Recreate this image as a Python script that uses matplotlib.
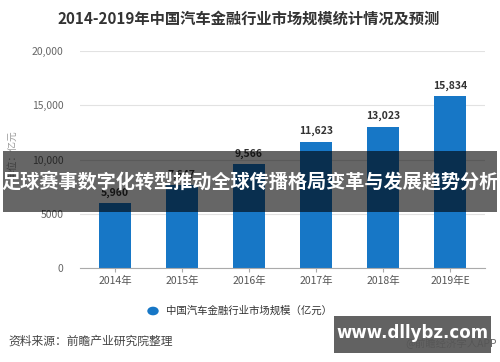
import matplotlib
matplotlib.use('Agg')
import matplotlib.pyplot as plt
from matplotlib.patches import Rectangle

plt.rcParams['font.family'] = ['Noto Sans CJK SC', 'DejaVu Sans']

# data
years = ['2014年', '2015年', '2016年', '2017年', '2018年', '2019年E']
market_size = [5960, 7647, 9566, 11623, 13023, 15834]
y_ticks = [0, 5000, 10000, 15000, 20000]
y_tick_labels = ['0', '5000', '10,000', '15,000', '20,000']

W, H = 500, 362
bar_color = '#1777c6'

fig = plt.figure(figsize=(W / 100, H / 100), dpi=100)
fig.patch.set_facecolor('white')

def fx(px):
    return px / W

def fy(py):
    return 1 - py / H

ax = fig.add_axes([fx(80), fy(268), fx(405), (268 - 51) / H])

x = list(range(len(years)))
ax.bar(x, market_size, width=0.47, color=bar_color, zorder=2)
for xi, v in zip(x, market_size):
    ax.text(xi, v + 500, f'{v:,}', ha='center', va='bottom',
            fontsize=7.5, fontweight='bold', color='#333333')

ax.set_xlim(-0.52, 5.52)
ax.set_ylim(0, 20000)
ax.set_xticks(x)
ax.set_xticklabels(years, fontsize=7.5, color='#555555')
ax.set_yticks(y_ticks)
ax.set_yticklabels(y_tick_labels, fontsize=7.5, color='#666666')
ax.tick_params(axis='y', length=0, pad=12)
ax.tick_params(axis='x', length=3, color='#aaaaaa', pad=3)
ax.grid(axis='y', color='#e2e2e2', linewidth=0.8, zorder=0)
for s in ['top', 'right', 'left']:
    ax.spines[s].set_visible(False)
ax.spines['bottom'].set_color('#aaaaaa')

# title
fig.text(fx(249), fy(19), '2014-2019年中国汽车金融行业市场规模统计情况及预测',
         ha='center', va='center', fontsize=11, fontweight='bold', color='#333333')

# y unit label
fig.text(fx(12), fy(155), '单位：亿元', rotation=90, ha='center', va='center',
         fontsize=7, color='#999999')

# legend
fig.patches.append(plt.Circle((fx(153), fy(311)), 0.01, transform=fig.transFigure,
                              color=bar_color, figure=fig))
fig.text(fx(166), fy(311), '中国汽车金融行业市场规模（亿元）', ha='left', va='center',
         fontsize=7.5, color='#333333')

# source
fig.text(fx(8), fy(341), '资料来源：前瞻产业研究院整理', ha='left', va='center',
         fontsize=8.5, color='#444444')
fig.text(fx(497), fy(343), '@前瞻经济学人APP', ha='right', va='center',
         fontsize=7.5, color='#666666')

# overlay banner
fig.patches.append(Rectangle((fx(3), fy(212)), fx(494), 61 / H, transform=fig.transFigure,
                             facecolor='black', alpha=0.6, edgecolor='none', zorder=5))
fig.text(fx(250), fy(182), '足球赛事数字化转型推动全球传播格局变革与发展趋势分析',
         ha='center', va='center', fontsize=13.8, fontweight='bold', color='white', zorder=6)

# site watermark
fig.patches.append(Rectangle((fx(334), fy(353)), fx(157), 37 / H, transform=fig.transFigure,
                             facecolor='#555555', alpha=0.92, edgecolor='none', zorder=5))
fig.text(fx(412), fy(333), 'www.dllybz.com', ha='center', va='center',
         fontsize=12, fontweight='bold', color='white', family='DejaVu Sans', zorder=6)

fig.savefig('out.png', dpi=100)
